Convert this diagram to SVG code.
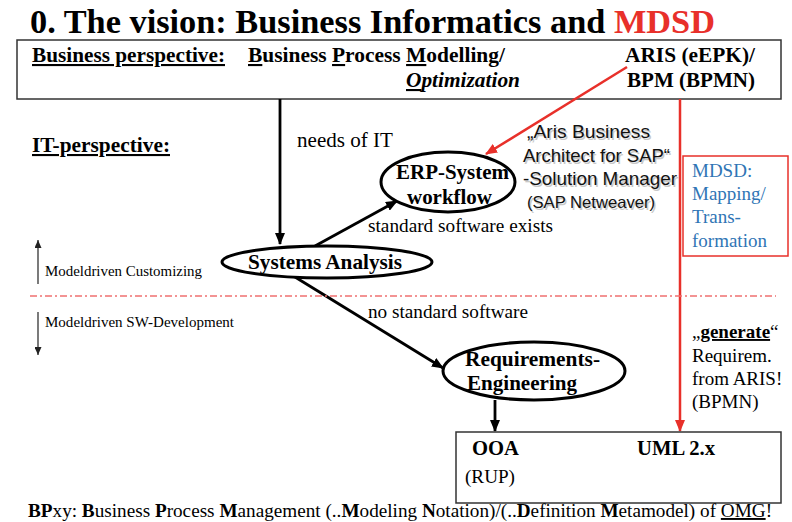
<svg xmlns="http://www.w3.org/2000/svg" width="792" height="522" viewBox="0 0 792 522">
<defs>
<style>
.serif{font-family:'Liberation Serif','DejaVu Serif',serif;fill:#000}
.sans{font-family:'Liberation Sans',Arial,sans-serif;fill:#111}
.b{font-weight:bold}
.u{text-decoration:underline}
.f21{font-size:21px}
.f19{font-size:19px}
.f15{font-size:15px}
.blue{fill:#2f75b5}
.node{fill:#fff;stroke:#000;stroke-width:3}
.conn{stroke:#000;stroke-width:2.8;fill:none}
.red{stroke:#e8302a;stroke-width:2.5;fill:none}
.thin{stroke:#222;stroke-width:1.2;fill:none}
.shadow{fill:#c8c8c8}
</style>
<marker id="ah" markerUnits="userSpaceOnUse" markerWidth="12" markerHeight="10" refX="11" refY="5" orient="auto">
<path d="M0,0 L12,5 L0,10 Z" fill="#000"/>
</marker>
<marker id="ahr" markerUnits="userSpaceOnUse" markerWidth="12" markerHeight="10" refX="11" refY="5" orient="auto">
<path d="M0,0 L12,5 L0,10 Z" fill="#e8302a"/>
</marker>
<marker id="ahs" markerUnits="userSpaceOnUse" markerWidth="8" markerHeight="7" refX="8" refY="3.5" orient="auto">
<path d="M0,0 L8,3.5 L0,7 Z" fill="#222"/>
</marker>
</defs>

<rect width="792" height="522" fill="#fff"/>

<g id="title">
<text class="serif b" x="30" y="33" font-size="34" textLength="685" lengthAdjust="spacingAndGlyphs">0. The vision: Business Informatics and <tspan fill="#e8302a">MDSD</tspan></text>
</g>

<g id="business-perspective">
<rect x="17" y="40" width="764" height="59" fill="none" stroke="#333" stroke-width="1.5"/>
<text class="serif b f21 u" x="32" y="62" textLength="193" lengthAdjust="spacingAndGlyphs">Business perspective:</text>
<text class="serif b f21" x="248" y="62" textLength="257" lengthAdjust="spacingAndGlyphs"><tspan class="u">B</tspan>usiness <tspan class="u">P</tspan>rocess <tspan class="u">M</tspan>odelling/</text>
<text class="serif b f21" x="406" y="87" font-style="italic" textLength="114" lengthAdjust="spacingAndGlyphs"><tspan class="u">O</tspan>ptimization</text>
<text class="serif b f21" x="625" y="62" textLength="130" lengthAdjust="spacingAndGlyphs">ARIS (eEPK)/</text>
<text class="serif b f21" x="627" y="87" textLength="128" lengthAdjust="spacingAndGlyphs">BPM (BPMN)</text>
</g>

<g id="it-perspective">
<text class="serif b f21 u" x="32" y="152" textLength="138" lengthAdjust="spacingAndGlyphs">IT-perspective:</text>
</g>

<g id="connectors">
<line class="conn" x1="280" y1="99" x2="280" y2="244" marker-end="url(#ah)"/>
<line class="conn" x1="315" y1="246" x2="397" y2="201" marker-end="url(#ah)"/>
<line class="conn" x1="295" y1="277" x2="443" y2="368" marker-end="url(#ah)"/>
<line class="conn" x1="495" y1="400" x2="495" y2="431" marker-end="url(#ah)"/>
<line class="red" x1="627" y1="67" x2="486" y2="154" marker-end="url(#ahr)"/>
<line class="red" x1="680" y1="99" x2="680" y2="431" marker-end="url(#ahr)"/>
<line class="thin" x1="38" y1="284" x2="38" y2="240" marker-end="url(#ahs)"/>
<line class="thin" x1="38" y1="312" x2="38" y2="355" marker-end="url(#ahs)"/>
<line x1="30" y1="296" x2="776" y2="296" stroke="#f07070" stroke-width="1.3" stroke-dasharray="7 3 2 3"/>
</g>

<g id="connector-labels">
<text class="serif f21" x="297" y="147" textLength="96" lengthAdjust="spacingAndGlyphs">needs of IT</text>
<text class="serif f19" x="368" y="232" textLength="185" lengthAdjust="spacingAndGlyphs">standard software exists</text>
<text class="serif f19" x="368" y="318" textLength="160" lengthAdjust="spacingAndGlyphs">no standard software</text>
<text class="serif f15" x="45" y="276" fill="#333" textLength="157" lengthAdjust="spacingAndGlyphs">Modeldriven Customizing</text>
<text class="serif f15" x="45" y="327" fill="#333" textLength="189" lengthAdjust="spacingAndGlyphs">Modeldriven SW-Development</text>
</g>

<g id="erp-system">
<ellipse class="node" cx="448" cy="182" rx="67" ry="30"/>
<text class="serif b f21" x="396" y="179" textLength="113" lengthAdjust="spacingAndGlyphs">ERP-System</text>
<text class="serif b f21" x="407" y="204" textLength="85" lengthAdjust="spacingAndGlyphs">workflow</text>
</g>

<g id="systems-analysis">
<ellipse class="node" cx="327" cy="262" rx="105" ry="16"/>
<text class="serif b f21" x="248" y="269" textLength="154" lengthAdjust="spacingAndGlyphs">Systems Analysis</text>
</g>

<g id="requirements-engineering">
<ellipse class="node" cx="534" cy="371" rx="91" ry="29"/>
<text class="serif b f21" x="465" y="366" textLength="135" lengthAdjust="spacingAndGlyphs">Requirements-</text>
<text class="serif b f21" x="467" y="390" textLength="110" lengthAdjust="spacingAndGlyphs">Engineering</text>
</g>

<g id="aris-note">
<text class="sans shadow" x="528.5" y="139.5" font-size="19" textLength="123" lengthAdjust="spacingAndGlyphs">„Aris Business</text>
<text class="sans shadow" x="524.5" y="163.5" font-size="19" textLength="147" lengthAdjust="spacingAndGlyphs">Architect for SAP“</text>
<text class="sans shadow" x="524.5" y="186.5" font-size="19" textLength="154" lengthAdjust="spacingAndGlyphs">-Solution Manager</text>
<text class="sans shadow" x="528.5" y="209.5" font-size="16.5" textLength="128" lengthAdjust="spacingAndGlyphs">(SAP Netweaver)</text>
<text class="sans" x="527" y="138" font-size="19" textLength="123" lengthAdjust="spacingAndGlyphs">„Aris Business</text>
<text class="sans" x="523" y="162" font-size="19" textLength="147" lengthAdjust="spacingAndGlyphs">Architect for SAP“</text>
<text class="sans" x="523" y="185" font-size="19" textLength="154" lengthAdjust="spacingAndGlyphs">-Solution Manager</text>
<text class="sans" x="527" y="208" font-size="16.5" textLength="128" lengthAdjust="spacingAndGlyphs">(SAP Netweaver)</text>
</g>

<g id="mdsd-mapping">
<rect x="683" y="156" width="105" height="100" fill="#fff" stroke="#e8302a" stroke-width="1.5"/>
<text class="serif f19 blue" x="692" y="177">MDSD:</text>
<text class="serif f19 blue" x="692" y="200">Mapping/</text>
<text class="serif f19 blue" x="692" y="223">Trans-</text>
<text class="serif f19 blue" x="692" y="247">formation</text>
</g>

<g id="generate-note">
<text class="serif f19" x="692" y="338" fill="#222">„<tspan class="b u">generate</tspan>“</text>
<text class="serif f19" x="692" y="362" fill="#222">Requirem.</text>
<text class="serif f19" x="692" y="385" fill="#222">from ARIS!</text>
<text class="serif f19" x="692" y="408" fill="#222">(BPMN)</text>
</g>

<g id="ooa-uml">
<rect x="456" y="432" width="325" height="71" fill="#fff" stroke="#333" stroke-width="1.5"/>
<text class="serif b f21" x="472" y="455" textLength="47" lengthAdjust="spacingAndGlyphs">OOA</text>
<text class="serif b f21" x="637" y="455" textLength="78" lengthAdjust="spacingAndGlyphs">UML 2.x</text>
<text class="serif f19" x="465" y="483" textLength="50" lengthAdjust="spacingAndGlyphs">(RUP)</text>
</g>

<g id="footnote">
<text class="serif" x="28" y="517" font-size="19.2"><tspan class="b">BP</tspan>xy: <tspan class="b">B</tspan>usiness <tspan class="b">P</tspan>rocess <tspan class="b">M</tspan>anagement (..<tspan class="b">M</tspan>odeling <tspan class="b">N</tspan>otation)/(..<tspan class="b">D</tspan>efinition <tspan class="b">M</tspan>etamodel) of <tspan class="u">OMG</tspan>!</text>
</g>
</svg>
